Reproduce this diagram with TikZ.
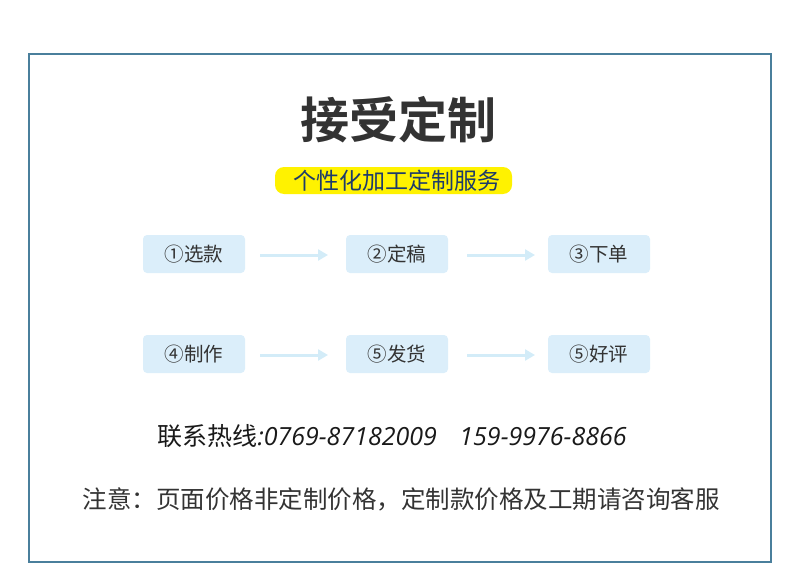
\documentclass[tikz,border=0pt]{standalone}
\usepackage{fontspec}
\newfontfamily\cjk{Noto Sans CJK SC}
\newfontfamily\cjkbold{Noto Sans CJK SC Bold}
\newfontfamily\digitfont{Open Sans}
\usetikzlibrary{arrows.meta}
\definecolor{frameblue}{HTML}{4A7F9C}
\definecolor{boxblue}{HTML}{DBEEFA}
\definecolor{arrowblue}{HTML}{D3ECF8}
\definecolor{navy}{HTML}{1D3B6B}
\definecolor{textgray}{HTML}{333333}
\tikzset{
  stepbox/.style={fill=boxblue, rounded corners=4pt, minimum width=102pt, minimum height=38pt, inner sep=0pt, font=\cjk\fontsize{19.5}{19.5}\selectfont, text=textgray},
  flowarrow/.style={draw=arrowblue, line width=3pt, -{Triangle[length=10pt,width=11pt]}, shorten >=0pt}
}
\begin{document}
\begin{tikzpicture}[x=1pt,y=-1pt]
\useasboundingbox (0,0) rectangle (790,586);
\draw[frameblue, line width=2pt] (29,54.5) rectangle (770.5,561.5);
\node[font=\cjkbold\fontsize{49}{49}\selectfont, text=textgray] (title) at (398,120) {接受定制};
\node[fill=yellow, rounded corners=9pt, minimum width=237pt, minimum height=27pt, inner sep=0pt] (pill) at (393.5,180.5) {};
\node[font=\cjk\fontsize{23}{23}\selectfont, text=navy, inner sep=0pt] (sub) at (397,180.5) {个性化加工定制服务};
\node[stepbox] (s1) at (194,254) {①选款};
\node[stepbox] (s2) at (397,254) {②定稿};
\node[stepbox] (s3) at (599,254) {③下单};
\node[stepbox] (s4) at (194,354) {④制作};
\node[stepbox] (s5) at (397,354) {⑤发货};
\node[stepbox] (s6) at (599,354) {⑤好评};
\coordinate (a1s) at (260,255); \coordinate (a1e) at (328,255);
\coordinate (a2s) at (467,255); \coordinate (a2e) at (535,255);
\coordinate (a3s) at (260,355); \coordinate (a3e) at (328,355);
\coordinate (a4s) at (467,355); \coordinate (a4e) at (535,355);
\draw[flowarrow] (a1s) -- (a1e);
\draw[flowarrow] (a2s) -- (a2e);
\draw[flowarrow] (a3s) -- (a3e);
\draw[flowarrow] (a4s) -- (a4e);
\node[font=\cjk\fontsize{25}{25}\selectfont, text=black!90, inner sep=0pt] (contact) at (392,436) {联系热线{\digitfont\itshape :0769-87182009\hspace{0.9em}159-9976-8866}};
\node[font=\cjk\fontsize{24.5}{24.5}\selectfont, text=textgray, inner sep=0pt] (note) at (401,499) {注意：页面价格非定制价格，定制款价格及工期请咨询客服};
\end{tikzpicture}
\end{document}
